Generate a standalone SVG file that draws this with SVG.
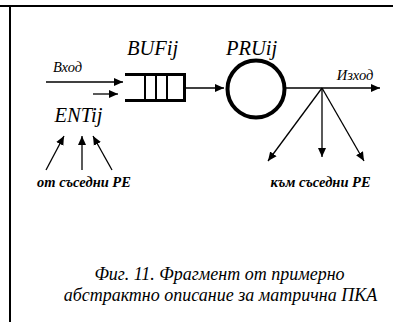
<svg xmlns="http://www.w3.org/2000/svg" width="393" height="322" viewBox="0 0 393 322">
<style>
.ln{stroke:#000;stroke-width:1.3;fill:none}
</style>
<defs>
<marker id="ah" markerUnits="userSpaceOnUse" markerWidth="10" markerHeight="10" refX="9" refY="5" orient="auto">
<path d="M0,1 L9,5 L0,9 Z" fill="#000"/>
</marker>
</defs>
<rect width="393" height="322" fill="#fff"/>
<g id="frame">
<line x1="0" y1="6" x2="393" y2="6" stroke="#000" stroke-width="2"/>
<line x1="10" y1="6" x2="10" y2="322" stroke="#000" stroke-width="2"/>
</g>
<g id="connectors">
<line class="ln" x1="46" y1="82" x2="123" y2="82" marker-end="url(#ah)"/>
<line class="ln" x1="93" y1="94" x2="118" y2="94" marker-end="url(#ah)"/>
<line class="ln" x1="186" y1="88" x2="224" y2="88" marker-end="url(#ah)"/>
<line class="ln" x1="286" y1="88" x2="380" y2="88" marker-end="url(#ah)"/>
<line class="ln" x1="322" y1="88" x2="268" y2="161" marker-end="url(#ah)"/>
<line class="ln" x1="322" y1="88" x2="322" y2="157" marker-end="url(#ah)"/>
<line class="ln" x1="322" y1="88" x2="364" y2="161" marker-end="url(#ah)"/>
<line class="ln" x1="46" y1="170" x2="64" y2="136" marker-end="url(#ah)"/>
<line class="ln" x1="82" y1="170" x2="82" y2="136" marker-end="url(#ah)"/>
<line class="ln" x1="112" y1="170" x2="93" y2="136" marker-end="url(#ah)"/>
</g>
<g font-family="Liberation Serif, Times New Roman, serif" font-style="italic" fill="#000" text-anchor="middle">
<g id="BUFij">
<line x1="125" y1="74.5" x2="186" y2="74.5" stroke="#000" stroke-width="3"/>
<line x1="125" y1="100.5" x2="186" y2="100.5" stroke="#000" stroke-width="3"/>
<line x1="184.5" y1="73" x2="184.5" y2="102" stroke="#000" stroke-width="3"/>
<line x1="145" y1="74" x2="145" y2="101" stroke="#000" stroke-width="2"/>
<line x1="156" y1="74" x2="156" y2="101" stroke="#000" stroke-width="2"/>
<line x1="167" y1="74" x2="167" y2="101" stroke="#000" stroke-width="2"/>
<text x="152.5" y="55" font-size="20.5">BUFij</text>
</g>
<g id="PRUij">
<circle cx="256" cy="89" r="28.5" fill="none" stroke="#000" stroke-width="4"/>
<text x="251.5" y="55" font-size="20.5">PRUij</text>
</g>
<g id="ENTij">
<text x="78.5" y="122" font-size="20.5">ENTij</text>
</g>
<g id="labels">
<text x="67.5" y="72" font-size="14.5">Вход</text>
<text x="355" y="80" font-size="14.5">Изход</text>
<text x="84" y="187" font-size="14.5" font-weight="bold">от съседни РЕ</text>
<text x="320.5" y="187" font-size="14.5" font-weight="bold">към съседни РЕ</text>
</g>
<g id="caption" font-size="18">
<text x="219.5" y="280">Фиг. 11. Фрагмент от примерно</text>
<text x="220.5" y="301">абстрактно описание за матрична ПКА</text>
</g>
</g>
</svg>
